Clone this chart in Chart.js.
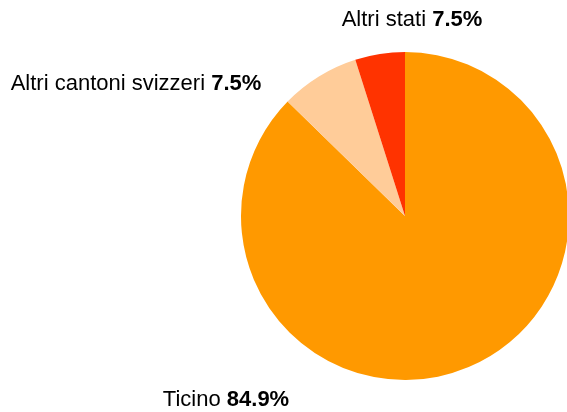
<!DOCTYPE html>
<html>
<head>
<meta charset="utf-8">
<script src="https://cdn.jsdelivr.net/npm/chart.js@4/dist/chart.umd.min.js"></script>
<style>
  html, body { margin: 0; padding: 0; background: #fff; overflow: hidden; }
  #wrap { width: 567px; height: 412px; overflow: hidden; position: relative; }
  #box { width: 580px; height: 412px; }
</style>
</head>
<body>
<div id="wrap"><div id="box"><canvas id="c1"></canvas></div></div>
<script>
// categories and values (slice sizes)
var labels = ['Ticino', 'Altri cantoni svizzeri', 'Altri stati'];
var values = [87.3, 7.8, 4.9];
// percentages as printed on the chart
var shown = ['84.9%', '7.5%', '7.5%'];
var colors = ['#FF9900', '#FFCC99', '#FF3300'];
// label centres
var labelPos = [[226, 400], [136, 84], [412, 20]];

var textLabels = {
  id: 'textLabels',
  afterDraw: function(chart) {
    var ctx = chart.ctx;
    ctx.save();
    ctx.textBaseline = 'middle';
    ctx.fillStyle = '#000';
    for (var i = 0; i < labels.length; i++) {
      var a = labels[i] + ' ';
      var b = shown[i];
      ctx.font = '22px "Liberation Sans", Arial, sans-serif';
      var wa = ctx.measureText(a).width;
      ctx.font = 'bold 22px "Liberation Sans", Arial, sans-serif';
      var wb = ctx.measureText(b).width;
      var x = labelPos[i][0] - (wa + wb) / 2;
      var y = labelPos[i][1];
      ctx.font = '22px "Liberation Sans", Arial, sans-serif';
      ctx.fillText(a, x, y);
      ctx.font = 'bold 22px "Liberation Sans", Arial, sans-serif';
      ctx.fillText(b, x + wa, y);
    }
    ctx.restore();
  }
};

var ctx = document.getElementById('c1').getContext('2d');
var chart1 = new Chart(ctx, {
  type: 'pie',
  data: {
    labels: labels,
    datasets: [{
      data: values,
      backgroundColor: colors,
      borderWidth: 0
    }]
  },
  options: {
    responsive: true,
    maintainAspectRatio: false,
    animation: false,
    layout: { padding: { left: 241, right: 11, top: 52, bottom: 32 } },
    plugins: {
      legend: { display: false },
      tooltip: { enabled: false }
    }
  },
  plugins: [textLabels]
});
</script>
</body>
</html>
